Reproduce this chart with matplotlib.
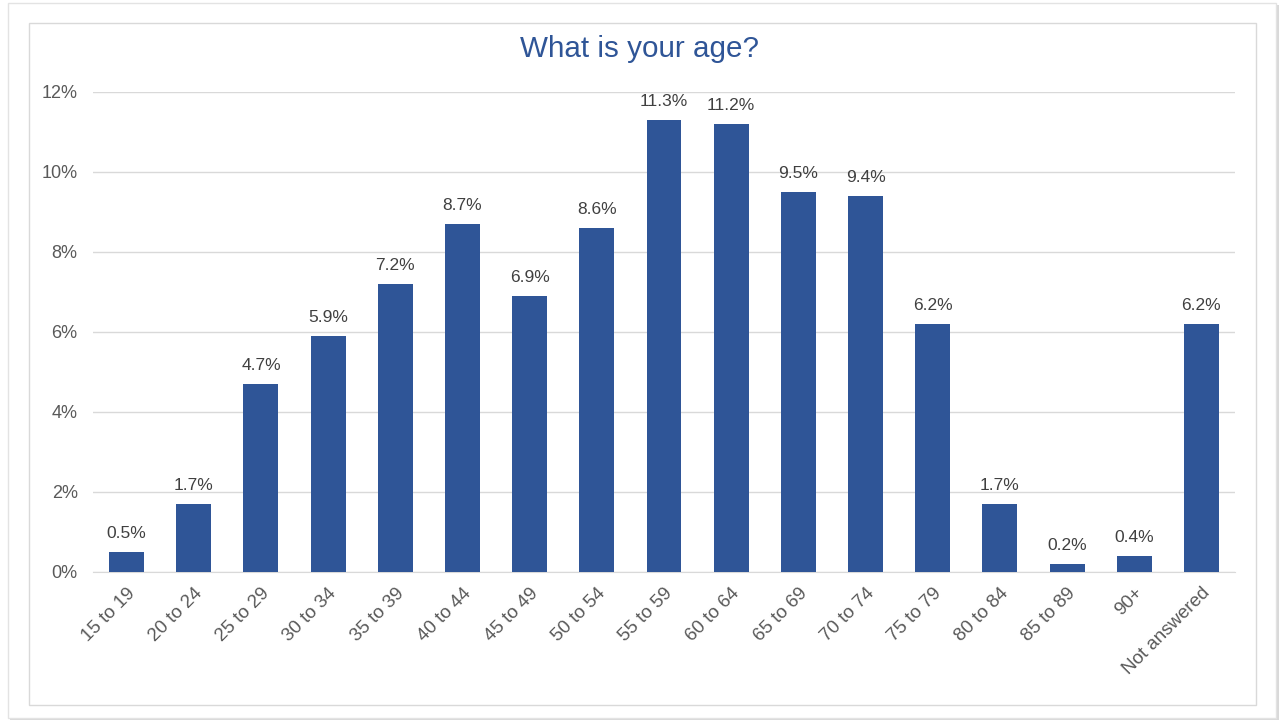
import numpy as np
import matplotlib
matplotlib.use("Agg")
import matplotlib.pyplot as plt
from matplotlib.patches import Rectangle
from matplotlib.ticker import FuncFormatter

categories = ["15 to 19", "20 to 24", "25 to 29", "30 to 34", "35 to 39",
              "40 to 44", "45 to 49", "50 to 54", "55 to 59", "60 to 64",
              "65 to 69", "70 to 74", "75 to 79", "80 to 84", "85 to 89",
              "90+", "Not answered"]
values = [0.5, 1.7, 4.7, 5.9, 7.2, 8.7, 6.9, 8.6, 11.3, 11.2,
          9.5, 9.4, 6.2, 1.7, 0.2, 0.4, 6.2]
yticks = [0, 2, 4, 6, 8, 10, 12]

plt.rcParams['font.family'] = ['Liberation Sans', 'DejaVu Sans']

W, H = 1279, 720
fig = plt.figure(figsize=(W / 100, H / 100), dpi=100)
fig.patch.set_facecolor("white")

# outer frame + inner chart border
def px_rect(x0, y0, x1, y1, **kw):
    return Rectangle((x0 / W, 1 - y1 / H), (x1 - x0) / W, (y1 - y0) / H,
                     transform=fig.transFigure, **kw)

fig.patches.append(px_rect(10, 5, 1279, 720, facecolor="#d9d9d9", edgecolor="none", zorder=0))
fig.patches.append(px_rect(8, 3, 1276, 718, facecolor="white", edgecolor="#e3e3e3", lw=1, zorder=0))
fig.patches.append(px_rect(29, 23, 1256, 705, facecolor="none", edgecolor="#d9d9d9", lw=1, zorder=1))

ax = fig.add_axes([93 / W, 1 - 572 / H, (1235 - 93) / W, (572 - 92) / H])
ax.set_facecolor("none")
ax.set_zorder(5)

x = np.arange(len(categories))
bars = ax.bar(x, values, width=0.52, color="#2F5597", zorder=3)

ax.set_xlim(-0.5, len(categories) - 0.5)
ax.set_ylim(0, 12)
ax.set_yticks(yticks)
ax.yaxis.set_major_formatter(FuncFormatter(lambda v, p: f"{v:.0f}%"))
ax.grid(axis="y", color="#d9d9d9", lw=1, zorder=0)
for s in ["top", "right", "left"]:
    ax.spines[s].set_visible(False)
ax.spines["bottom"].set_color("#d9d9d9")
ax.tick_params(axis="both", length=0, colors="#595959")
ax.tick_params(axis="y", pad=11, labelsize=13)
ax.set_xticks(x)
ax.set_xticklabels(categories, rotation=45, ha="right", rotation_mode="anchor")
ax.tick_params(axis="x", pad=9, labelsize=13.5)

for xi, v in zip(x, values):
    ax.annotate(f"{v:.1f}%", (xi, v), xytext=(0, 8), textcoords="offset points",
                ha="center", va="bottom", fontsize=12.5, color="#404040")

fig.text(0.5, 1 - 49 / H, "What is your age?", ha="center", va="center",
         fontsize=21.3, color="#2F5597", zorder=6)

fig.savefig("out.png", dpi=100)
